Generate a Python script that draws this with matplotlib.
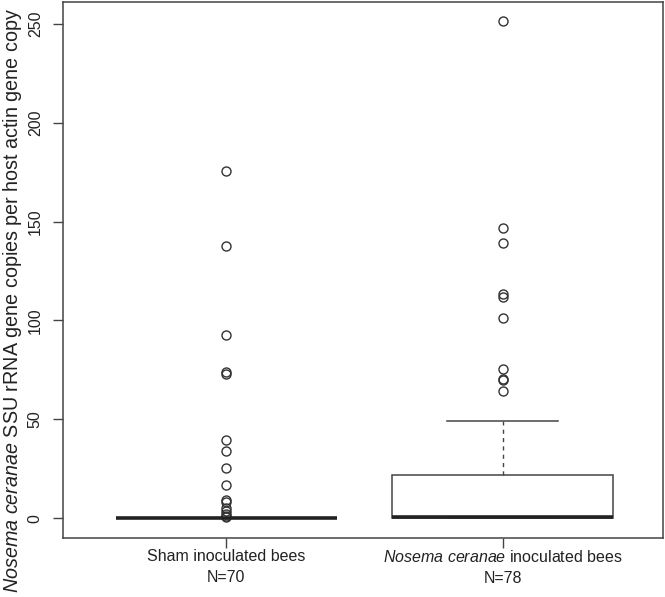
import matplotlib
matplotlib.use("Agg")
import matplotlib.pyplot as plt

plt.rcParams["font.family"] = ["Liberation Sans", "DejaVu Sans"]
plt.rcParams["mathtext.fontset"] = "custom"
plt.rcParams["mathtext.rm"] = "Liberation Sans"
plt.rcParams["mathtext.it"] = "Liberation Sans:italic"

# Values (copies per host actin copy)
groups = ["Sham inoculated bees\nN=70",
          r"$\it{Nosema\ ceranae}$ inoculated bees" + "\nN=78"]
q1 = [0.0, 0.0]
median = [0.0, 0.5]
q3 = [0.0, 22.0]
whisker_low = [0.0, 0.0]
whisker_high = [0.0, 49.0]
sham_outliers = [175.5, 137.5, 92.5, 74.0, 73.0, 39.5, 34.0, 25.5, 17.0,
                 9.0, 8.0, 5.0, 3.5, 2.0, 1.0, 0.5]
nosema_outliers = [251.5, 146.5, 139.0, 113.5, 112.0, 101.0, 75.5, 70.5,
                   70.0, 64.5]
outliers = [sham_outliers, nosema_outliers]

stats = []
for i in range(len(groups)):
    stats.append({
        "q1": q1[i], "med": median[i], "q3": q3[i],
        "whislo": whisker_low[i], "whishi": whisker_high[i],
        "fliers": outliers[i],
    })

fig = plt.figure(figsize=(6.65, 5.97), dpi=100)
ax = fig.add_axes([63 / 665, 1 - 538 / 597, 600 / 665, 536 / 597])

edge = "#444444"
ax.bxp(
    stats,
    positions=[1, 2],
    widths=0.8,
    showcaps=True,
    patch_artist=True,
    boxprops=dict(facecolor="white", edgecolor=edge, linewidth=1.1),
    medianprops=dict(color="#222222", linewidth=2.6, solid_capstyle="butt"),
    whiskerprops=dict(color=edge, linewidth=1.0, linestyle=(0, (3, 3))),
    capprops=dict(color=edge, linewidth=1.1),
    capwidths=0.4,
    flierprops=dict(marker="o", markersize=6.5, markerfacecolor="none",
                    markeredgecolor="#333333", markeredgewidth=1.0,
                    linestyle="none"),
)

ax.set_xlim(0.41, 2.58)
ax.set_ylim(-10.04, 261.04)
ax.set_yticks([0, 50, 100, 150, 200, 250])
ax.set_yticklabels(["0", "50", "100", "150", "200", "250"], rotation=90,
                   va="center")
ax.set_xticks([1, 2])
ax.set_xticklabels(groups, fontsize=11.5, linespacing=1.45)

for spine in ax.spines.values():
    spine.set_color(edge)
    spine.set_linewidth(1.1)
ax.tick_params(axis="both", colors=edge, length=7.5, width=1.0,
               labelcolor="#222222", labelsize=11.5)
ax.tick_params(axis="y", pad=7)
ax.tick_params(axis="x", pad=0.5)

# y label sits lower than the axes centre in the reference, so place it on the figure
fig.text(13 / 665, 1 - 301 / 597,
         r"$\it{Nosema\ ceranae}$ SSU rRNA gene copies per host actin gene copy",
         rotation=90, ha="center", va="center", fontsize=14.2, color="#222222")

fig.savefig("out.png", dpi=100)
